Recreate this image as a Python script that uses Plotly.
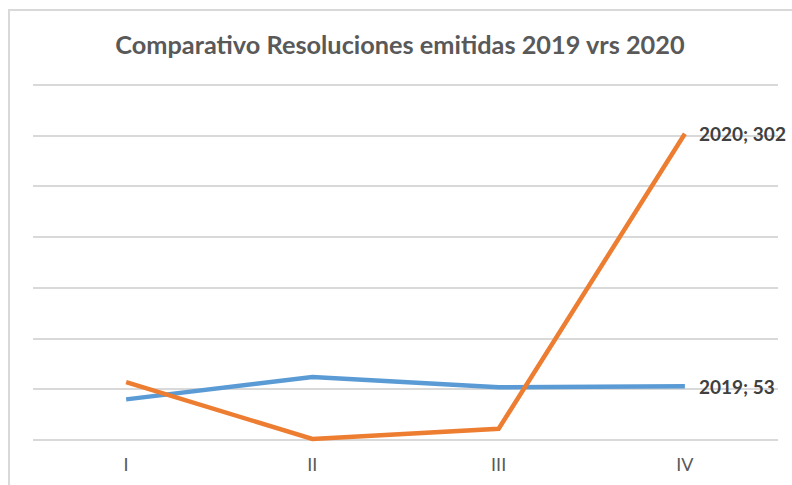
import plotly.graph_objects as go

# Quarterly resolutions issued, 2019 vs 2020
quarters = ["I", "II", "III", "IV"]
res_2019 = [40, 62, 52, 53]
res_2020 = [57, 1, 11, 302]
series_names = ["2019", "2020"]
series_colors = ["#5B9BD5", "#ED7D31"]

W, H = 792, 485
ML, MR, MT, MB = 33, 14, 80, 40
pw, ph = W - ML - MR, H - MT - MB

fig = go.Figure()
for name, vals, col in zip(series_names, [res_2019, res_2020], series_colors):
    fig.add_trace(go.Scatter(
        x=quarters, y=vals, mode="lines", name=name,
        line=dict(color=col, width=4.5),
        hoverinfo="skip",
    ))
    # value label on the last quarter
    fig.add_annotation(
        x=quarters[-1], y=vals[-1], text=f"{name}; {vals[-1]}",
        showarrow=False, xanchor="left", yanchor="middle", xshift=12,
        font=dict(family="Lato, sans-serif", size=19, color="#404040", weight="bold"),
    )

# outer chart frame
def px_to_paper_x(px):
    return (px - ML) / pw

def px_to_paper_y(py):
    return (H - MB - py) / ph

fig.add_shape(
    type="rect", xref="paper", yref="paper",
    x0=px_to_paper_x(9), x1=px_to_paper_x(800),
    y0=px_to_paper_y(495), y1=px_to_paper_y(10),
    line=dict(color="#d9d9d9", width=2), fillcolor="rgba(0,0,0,0)",
    layer="below",
)

fig.update_layout(
    width=W, height=H,
    margin=dict(l=ML, r=MR, t=MT, b=MB),
    paper_bgcolor="white", plot_bgcolor="white",
    showlegend=False,
    title=dict(
        text="Comparativo Resoluciones emitidas 2019 vrs 2020",
        x=0.505, xanchor="center", y=1 - 45 / H, yanchor="middle",
        font=dict(family="Lato, sans-serif", size=25.3, color="#595959", weight="bold"),
    ),
    xaxis=dict(
        type="category", range=[-0.5, 3.5], automargin=False,
        showgrid=False, zeroline=False, showline=False,
        ticks="", tickfont=dict(family="Lato, sans-serif", size=18, color="#595959"),
        ticklabelstandoff=7,
    ),
    yaxis=dict(
        range=[-5, 355], tick0=0, dtick=50, showticklabels=False, automargin=False,
        showgrid=True, gridcolor="#d9d9d9", gridwidth=1.5,
        zeroline=True, zerolinecolor="#d9d9d9", zerolinewidth=1.5,
        showline=False,
    ),
)

fig.write_html("out.html")
